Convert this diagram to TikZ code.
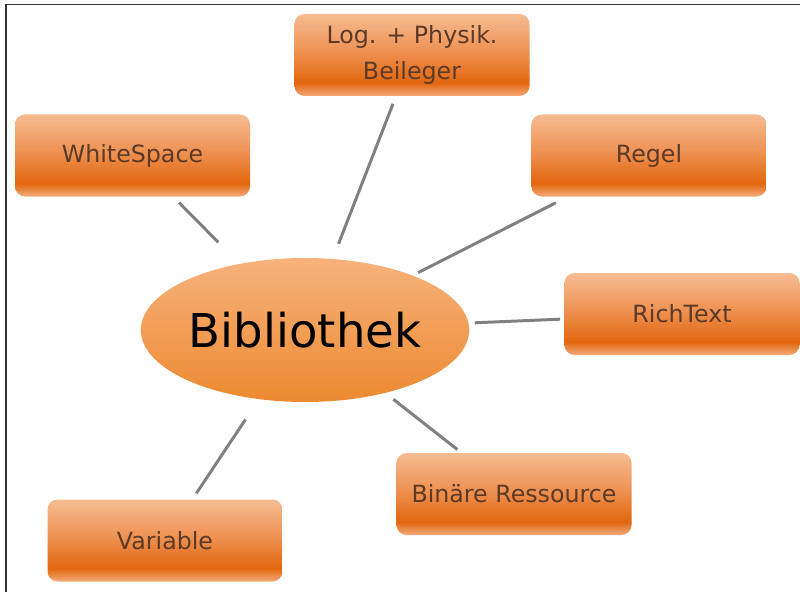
\documentclass[tikz,border=0pt]{standalone}
\usepackage{fontspec}
\setmainfont{DejaVu Sans}
\usepackage{tikz}
\usetikzlibrary{shapes.geometric, positioning}
\definecolor{boxtop}{HTML}{F6BC92}
\definecolor{boxmid}{HTML}{EE9152}
\definecolor{boxdark}{HTML}{E2660E}
\definecolor{boxbot}{HTML}{F2AC7C}
\definecolor{elltop}{HTML}{F7B27C}
\definecolor{ellbot}{HTML}{EC8A30}
\definecolor{boxtext}{HTML}{5C3A26}
\definecolor{linkgray}{HTML}{808080}
\pgfdeclareverticalshading{orangebox}{100bp}{color(0bp)=(boxbot); color(25bp)=(boxbot); color(33bp)=(boxdark); color(52bp)=(boxmid); color(75bp)=(boxtop); color(100bp)=(boxtop)}
\tikzstyle{topic} = [rectangle, rounded corners=0.2cm, minimum width=4.7cm, minimum height=1.64cm, shading=orangebox, draw=none, text=boxtext, align=center, font=\fontsize{13.5}{21}\selectfont]
\tikzstyle{link} = [line width=1.7pt, color=linkgray, shorten <=0.16cm]

\begin{document}
\begin{tikzpicture}[
    hub/.style={ellipse, minimum width=6.4cm, minimum height=2.88cm, inner sep=0pt,
      top color=elltop, bottom color=ellbot, draw=none, font=\fontsize{26.5}{30}\selectfont}
  ]
    \useasboundingbox (0,0) rectangle (16,-11.84);
    % ── frame (left and top edge only)
    \draw[line width=0.6pt, black!80] (0.12,-11.84) -- (0.12,-0.09) -- (16,-0.09);

    % ── centre
    \node[hub] (bib) at (6.10,-6.60) {Bibliothek};

    % ── topics around it
    \node[topic] (beil) at (8.24,-1.10) {Log. + Physik.\\Beileger};
    \node[topic] (ws) at (2.65,-3.11) {WhiteSpace};
    \node[topic] (regel) at (12.98,-3.11) {Regel};
    \node[topic] (rich) at (13.64,-6.28) {RichText};
    \node[topic] (bin) at (10.28,-9.88) {Binäre Ressource};
    \node[topic] (var) at (3.30,-10.81) {Variable};

    % ── links (with gaps at both ends)
    \draw[link, shorten >=0.6cm] (ws) -- (bib);
    \draw[link, shorten >=0.32cm] (beil) -- (bib);
    \draw[link, shorten <=0.26cm, shorten >=0.12cm] (regel) -- (bib);
    \draw[link, shorten <=0.08cm, shorten >=0.12cm] (rich) -- (bib);
    \draw[link, shorten <=0.1cm, shorten >=0.2cm] (bin) -- (bib);
    \draw[link, shorten <=0.14cm, shorten >=0.48cm] (var) -- (bib);
  \end{tikzpicture}
\end{document}
